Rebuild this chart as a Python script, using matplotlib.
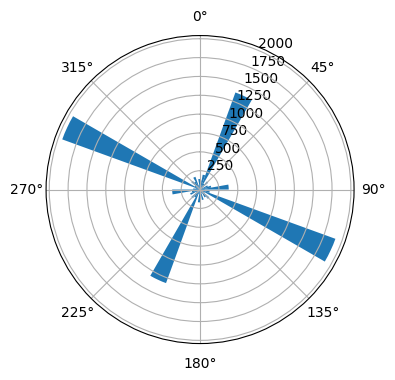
import numpy as np
import matplotlib
matplotlib.use('Agg')
import matplotlib.pyplot as plt

# 36 direction bins of 10 degrees, counts per bin
bin_starts = list(range(0, 360, 10))
counts = [120, 200, 1370, 90, 140, 40, 110, 150, 380, 60,
          130, 1910, 70, 160, 120, 50, 140, 90, 170, 60,
          1320, 120, 150, 60, 140, 110, 370, 90, 60, 1945,
          80, 150, 120, 180, 60, 140]

theta = np.deg2rad(np.array(bin_starts) + 5)
width = np.deg2rad(10)

fig = plt.figure(figsize=(4, 4), dpi=100)
ax = fig.add_subplot(111, projection='polar')
ax.set_theta_zero_location('N')
ax.set_theta_direction(-1)
ax.bar(theta, counts, width=width, bottom=0.0)
ax.set_rticks([250, 500, 750, 1000, 1250, 1500, 1750, 2000])

plt.savefig('out.png', bbox_inches='tight')
